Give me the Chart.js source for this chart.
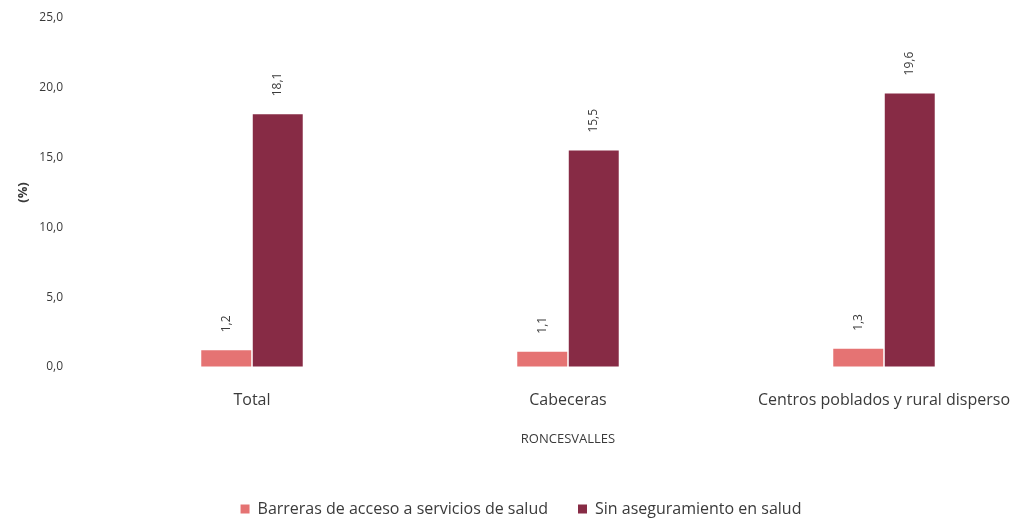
<!DOCTYPE html>
<html>
<head>
<meta charset="utf-8">
<script src="https://cdn.jsdelivr.net/npm/chart.js@4.4.1/dist/chart.umd.min.js"></script>
<style>
  html, body { margin: 0; padding: 0; background: #ffffff; overflow: hidden; width: 1026px; height: 527px; }
  #wrap { position: absolute; left: 0; top: 0; width: 1060px; height: 527px; }
</style>
</head>
<body>
<div id="wrap"><canvas id="c" width="1060" height="527"></canvas></div>
<script>
const categories = ['Total', 'Cabeceras', 'Centros poblados y rural disperso'];
const seriesNames = ['Barreras de acceso a servicios de salud', 'Sin aseguramiento en salud'];
const barreras = [1.2, 1.1, 1.3];
const sinAseguramiento = [18.1, 15.5, 19.6];
const yTickValues = [0, 5, 10, 15, 20, 25];
const yTickLabels = ['0,0', '5,0', '10,0', '15,0', '20,0', '25,0'];
const xTitle = 'RONCESVALLES';
const yTitle = '(%)';

const FONT = "'Open Sans', 'DejaVu Sans', sans-serif";
const TEXT = '#3a3a3a';

const valueLabels = {
  id: 'valueLabels',
  afterDatasetsDraw(chart) {
    const ctx = chart.ctx;
    chart.data.datasets.forEach((ds, di) => {
      const meta = chart.getDatasetMeta(di);
      meta.data.forEach((bar, i) => {
        const txt = ds.data[i].toFixed(1).replace('.', ',');
        ctx.save();
        ctx.translate(bar.x, bar.y - 18);
        ctx.rotate(-Math.PI / 2);
        ctx.font = '12px ' + FONT;
        ctx.fillStyle = TEXT;
        ctx.textAlign = 'left';
        ctx.textBaseline = 'middle';
        ctx.fillText(txt, 0, 0);
        ctx.restore();
      });
    });
  }
};

new Chart(document.getElementById('c'), {
  type: 'bar',
  data: {
    labels: categories,
    datasets: [
      { label: seriesNames[0], data: barreras, backgroundColor: '#E57373',
        categoryPercentage: 0.326, barPercentage: 0.97 },
      { label: seriesNames[1], data: sinAseguramiento, backgroundColor: '#872B45',
        categoryPercentage: 0.326, barPercentage: 0.97 }
    ]
  },
  options: {
    responsive: false,
    animation: false,
    layout: { padding: { top: 18, right: 18, bottom: 0, left: 0 } },
    plugins: {
      legend: {
        position: 'bottom',
        labels: {
          boxWidth: 9, boxHeight: 9, padding: 30,
          color: TEXT,
          font: { family: FONT, size: 16 }
        }
      },
      tooltip: { enabled: false }
    },
    scales: {
      x: {
        offset: true,
        grid: { display: false },
        border: { display: false },
        ticks: { color: TEXT, font: { family: FONT, size: 16 }, padding: 16, maxRotation: 0, autoSkip: false },
        title: { display: true, text: xTitle, color: TEXT, font: { family: FONT, size: 13 }, padding: { top: 4, bottom: 24 } },
        afterFit(scale) { scale.height = 104; }
      },
      y: {
        min: 0, max: 25,
        grid: { display: true, drawOnChartArea: false, drawTicks: true, tickLength: 28, color: 'rgba(0,0,0,0)' },
        border: { display: false },
        afterBuildTicks(scale) { scale.ticks = yTickValues.map(v => ({ value: v })); },
        ticks: {
          color: TEXT, font: { family: FONT, size: 12 }, padding: 3,
          callback: (v) => { const k = yTickValues.indexOf(v); return k >= 0 ? yTickLabels[k] : ''; }
        },
        title: { display: true, text: yTitle, color: TEXT, font: { family: FONT, size: 13, weight: 'bold' }, padding: { top: 15, bottom: 0 } },
        afterFit(scale) { scale.width = 94; }
      }
    }
  },
  plugins: [valueLabels]
});
</script>
</body>
</html>
